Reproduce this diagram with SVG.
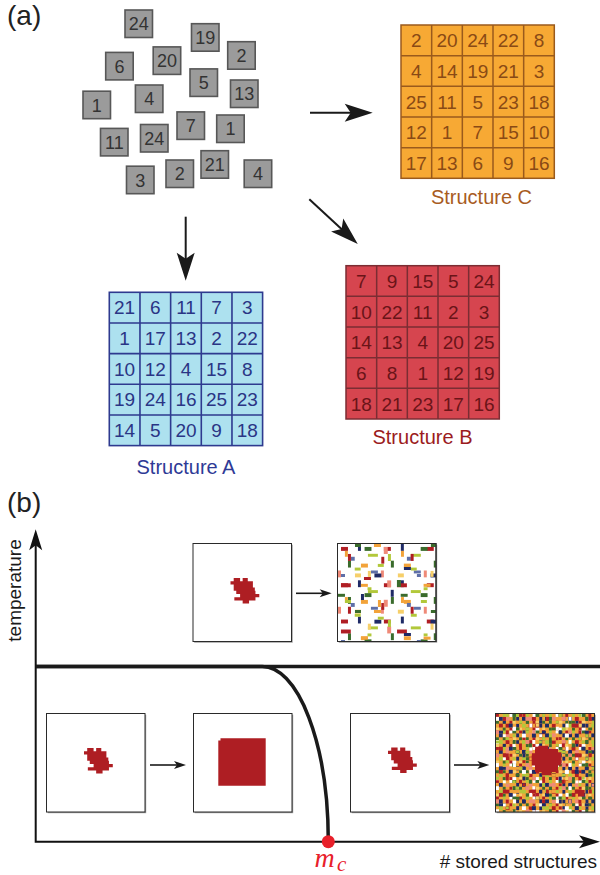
<svg xmlns="http://www.w3.org/2000/svg" width="600" height="875" viewBox="0 0 600 875">
<style>
text{font-family:"Liberation Sans",Arial,sans-serif}
.lbl{font-size:28px;fill:#222}
.tile rect{fill:#9b9b9b;stroke:#575757;stroke-width:1.6}
.tile text{font-size:18px;fill:#333;text-anchor:middle}
.g text{font-size:19px;text-anchor:middle}
.g .ttl{font-size:20px}
#structure-c .c{fill:#F7A934}
#structure-c .l{fill:none;stroke:#9A5A1C;stroke-width:1.5}
#structure-c text{fill:#8A4A15}
#structure-c .ttl{fill:#A85C1F}
#structure-a .c{fill:#ADE1EF}
#structure-a .l{fill:none;stroke:#2E3A8F;stroke-width:1.6}
#structure-a text{fill:#2A3585}
#structure-a .ttl{fill:#2E3A96}
#structure-b .c{fill:#D6454F}
#structure-b .l{fill:none;stroke:#7B2D33;stroke-width:1.5}
#structure-b text{fill:#6A1418}
#structure-b .ttl{fill:#9B1B20}
.arr{stroke:#1a1a1a;stroke-width:2;fill:none}
.sarr{stroke:#1a1a1a;stroke-width:1.6;fill:none}
.axis{stroke:#111;stroke-width:2;fill:none}
.phase{stroke:#1a1a1a;stroke-width:3.5;fill:none}
.box .sh{fill:#9a9a9a}
.box .fr{fill:#fff;stroke:#2a2a2a;stroke-width:1}
.box .fo{fill:none;stroke:#2a2a2a;stroke-width:1}
.r{fill:#B01E24}.n{fill:#1F2A66}.gg{fill:#3A6B2C}.y{fill:#B2C83A}.o{fill:#F2A33A}.s{fill:#EF8A78}.lt{fill:#F6CF6A}.w{fill:#FFFFFF}.b{fill:#5E6FA8}
.blob{fill:#AE1E23}
.ax{font-size:19px;fill:#1a1a1a}
text.math{font-family:"Liberation Serif","Times New Roman",serif;font-style:italic;fill:#E8202A}
</style>
<defs>
<marker id="ah" markerUnits="userSpaceOnUse" markerWidth="30" markerHeight="20" refX="18" refY="9" orient="auto" overflow="visible">
<path d="M28,9 L0,0 L6,9 L0,18 Z" fill="#1a1a1a"/>
</marker>
<marker id="sah" markerUnits="userSpaceOnUse" markerWidth="14" markerHeight="10" refX="7" refY="4" orient="auto" overflow="visible">
<path d="M12,4 L0,0 L3,4 L0,8 Z" fill="#1a1a1a"/>
</marker>
<marker id="axh" markerUnits="userSpaceOnUse" markerWidth="22" markerHeight="14" refX="13" refY="6.5" orient="auto-start-reverse" overflow="visible">
<path d="M21,6.5 L0,0 L5,6.5 L0,13 Z" fill="#111"/>
</marker>
<symbol id="blobshape" overflow="visible">
<path class="blob" transform="scale(3.2)" d="M1,0h2v1h-2z M3.8,0h1.6v1h-1.6z M0,1h7v1h-7z M1,2h6v1h-6z M1,3h6.6v1h-6.6z M1.8,4h6v1h-6z M3,5h6v1h-6z M1.2,6h6.6v1h-6.6z M3.8,7h2v1h-2z"/>
</symbol>
<pattern id="pd1" patternUnits="userSpaceOnUse" width="7" height="5" patternTransform="translate(496,714) scale(3.3)" shape-rendering="crispEdges">
<path class="r" d="M0,0h1v1h-1z M4,2h1v1h-1z M3,3h1v1h-1z M4,4h1v1h-1z"/>
<path class="y" d="M2,0h1v1h-1z M1,3h1v1h-1z"/>
<path class="w" d="M4,0h1v1h-1z M5,4h1v1h-1z"/>
<path class="gg" d="M5,0h1v1h-1z M0,2h1v1h-1z M2,4h1v1h-1z M2,2h1v1h-1z"/>
<path class="n" d="M1,1h1v1h-1z M6,3h1v1h-1z M6,1h1v1h-1z"/>
<path class="s" d="M3,1h1v1h-1z"/>
<path class="lt" d="M5,2h1v1h-1z M0,4h1v1h-1z"/>
</pattern>
<pattern id="pd2" patternUnits="userSpaceOnUse" width="11" height="7" patternTransform="translate(496,714) scale(3.3)" shape-rendering="crispEdges">
<path class="y" d="M3,0h1v1h-1z M7,2h1v1h-1z M9,4h1v1h-1z M5,6h1v1h-1z"/>
<path class="r" d="M8,0h1v1h-1z M1,3h1v1h-1z M3,5h1v1h-1z"/>
<path class="w" d="M0,1h1v1h-1z M10,3h1v1h-1z M2,6h1v1h-1z"/>
<path class="gg" d="M5,1h1v1h-1z M6,4h1v1h-1z"/>
<path class="s" d="M9,1h1v1h-1z M0,5h1v1h-1z"/>
<path class="n" d="M2,2h1v1h-1z M8,5h1v1h-1z M4,3h1v1h-1z"/>
<path class="o" d="M10,6h1v1h-1z M6,2h1v1h-1z"/>
</pattern>
<pattern id="pd3" patternUnits="userSpaceOnUse" width="13" height="11" patternTransform="translate(496,714) scale(3.3)" shape-rendering="crispEdges">
<path class="r" d="M2,1h1v1h-1z M7,9h1v1h-1z M11,1h1v1h-1z"/>
<path class="gg" d="M9,2h1v1h-1z M10,9h1v1h-1z"/>
<path class="w" d="M5,4h1v1h-1z M8,6h1v1h-1z"/>
<path class="n" d="M11,6h1v1h-1z M1,5h1v1h-1z"/>
<path class="y" d="M0,8h1v1h-1z M6,0h1v1h-1z"/>
<path class="s" d="M3,10h1v1h-1z"/>
<path class="lt" d="M12,3h1v1h-1z"/>
<path class="o" d="M4,7h1v1h-1z"/>
</pattern>
<pattern id="ps1" patternUnits="userSpaceOnUse" width="13" height="11" patternTransform="translate(338,544) scale(3.3)" shape-rendering="crispEdges">
<path class="r" d="M1,1h2v1h-2z"/>
<path class="n" d="M6,0h1v2h-1z"/>
<path class="y" d="M9,3h3v1h-3z"/>
<path class="gg" d="M3,5h1v2h-1z"/>
<path class="o" d="M7,6h2v1h-2z"/>
<path class="s" d="M0,8h1v2h-1z"/>
<path class="b" d="M10,8h2v1h-2z"/>
<path class="lt" d="M5,9h2v1h-2z"/>
</pattern>
<pattern id="ps2" patternUnits="userSpaceOnUse" width="17" height="14" patternTransform="translate(338,544) scale(3.3)" shape-rendering="crispEdges">
<path class="o" d="M2,2h1v2h-1z"/>
<path class="gg" d="M8,1h2v1h-2z"/>
<path class="r" d="M13,4h1v2h-1z M1,12h3v1h-3z"/>
<path class="y" d="M5,7h2v1h-2z M9,13h1v1h-1z"/>
<path class="n" d="M11,9h2v1h-2z"/>
<path class="s" d="M15,11h1v2h-1z"/>
<path class="b" d="M4,4h1v1h-1z"/>
</pattern>
<pattern id="ps3" patternUnits="userSpaceOnUse" width="19" height="16" patternTransform="translate(338,544) scale(3.3)" shape-rendering="crispEdges">
<path class="r" d="M3,3h1v2h-1z"/>
<path class="y" d="M12,6h2v1h-2z"/>
<path class="o" d="M7,12h2v1h-2z"/>
<path class="n" d="M16,14h1v2h-1z"/>
<path class="gg" d="M0,15h2v1h-2z"/>
<path class="s" d="M14,1h1v2h-1z"/>
<path class="lt" d="M9,8h1v2h-1z"/>
</pattern>
<pattern id="ps4" patternUnits="userSpaceOnUse" width="23" height="20" patternTransform="translate(338,544) scale(3.3)" shape-rendering="crispEdges">
<path class="gg" d="M5,0h2v1h-2z M18,11h1v2h-1z"/>
<path class="y" d="M15,3h1v2h-1z M2,17h2v1h-2z"/>
<path class="n" d="M20,7h2v1h-2z M7,15h1v2h-1z"/>
<path class="o" d="M11,0h2v1h-2z M12,17h1v2h-1z"/>
<path class="r" d="M8,10h2v1h-2z"/>
<path class="b" d="M1,9h1v1h-1z"/>
</pattern>
</defs>

<rect width="600" height="875" fill="#fff"/>

<text class="lbl" x="7" y="25">(a)</text>
<text class="lbl" x="7" y="512">(b)</text>

<!-- scattered tiles -->
<g id="tile-24a" class="tile"><rect x="125" y="10" width="27.5" height="27.5"/><text x="138.7" y="30.2">24</text></g>
<g id="tile-19" class="tile"><rect x="191.5" y="23.7" width="27.5" height="27.5"/><text x="205.3" y="44">19</text></g>
<g id="tile-2a" class="tile"><rect x="227.7" y="41.7" width="27.5" height="27.5"/><text x="241.5" y="62">2</text></g>
<g id="tile-6" class="tile"><rect x="105.7" y="52.4" width="27.5" height="27.5"/><text x="119.5" y="72.7">6</text></g>
<g id="tile-20" class="tile"><rect x="153.2" y="46.9" width="27.5" height="27.5"/><text x="167" y="67.2">20</text></g>
<g id="tile-5" class="tile"><rect x="190" y="68.9" width="27.5" height="27.5"/><text x="203.8" y="89.2">5</text></g>
<g id="tile-13" class="tile"><rect x="230.5" y="80" width="27.5" height="27.5"/><text x="244.3" y="100.3">13</text></g>
<g id="tile-1a" class="tile"><rect x="83" y="91.2" width="27.5" height="27.5"/><text x="96.8" y="111.5">1</text></g>
<g id="tile-4a" class="tile"><rect x="135.4" y="85" width="27.5" height="27.5"/><text x="149.2" y="105.3">4</text></g>
<g id="tile-7" class="tile"><rect x="177" y="111.9" width="27.5" height="27.5"/><text x="190.8" y="132.2">7</text></g>
<g id="tile-1b" class="tile"><rect x="216.7" y="115" width="27.5" height="27.5"/><text x="230.5" y="135.3">1</text></g>
<g id="tile-11" class="tile"><rect x="100.5" y="128.4" width="27.5" height="27.5"/><text x="114.3" y="148.7">11</text></g>
<g id="tile-24b" class="tile"><rect x="140.5" y="124.5" width="27.5" height="27.5"/><text x="154.3" y="144.8">24</text></g>
<g id="tile-21" class="tile"><rect x="201" y="150.7" width="27.5" height="27.5"/><text x="214.8" y="171">21</text></g>
<g id="tile-2b" class="tile"><rect x="166" y="160" width="27.5" height="27.5"/><text x="179.8" y="180.3">2</text></g>
<g id="tile-3" class="tile"><rect x="126.5" y="166.2" width="27.5" height="27.5"/><text x="140.3" y="186.5">3</text></g>
<g id="tile-4b" class="tile"><rect x="244.2" y="160" width="27.5" height="27.5"/><text x="258" y="180.3">4</text></g>

<!-- Structure C -->
<g id="structure-c" class="g" transform="translate(401,25)">
<rect class="c" width="153.3" height="153.3"/>
<path class="l" d="M30.67,0V153.3M61.33,0V153.3M92,0V153.3M122.67,0V153.3M0,30.67H153.3M0,61.33H153.3M0,92H153.3M0,122.67H153.3"/>
<rect class="l" width="153.3" height="153.3"/>
<text x="15.3" y="22.2">2</text><text x="46" y="22.2">20</text><text x="76.7" y="22.2">24</text><text x="107.3" y="22.2">22</text><text x="138" y="22.2">8</text>
<text x="15.3" y="52.9">4</text><text x="46" y="52.9">14</text><text x="76.7" y="52.9">19</text><text x="107.3" y="52.9">21</text><text x="138" y="52.9">3</text>
<text x="15.3" y="83.5">25</text><text x="46" y="83.5">11</text><text x="76.7" y="83.5">5</text><text x="107.3" y="83.5">23</text><text x="138" y="83.5">18</text>
<text x="15.3" y="114.2">12</text><text x="46" y="114.2">1</text><text x="76.7" y="114.2">7</text><text x="107.3" y="114.2">15</text><text x="138" y="114.2">10</text>
<text x="15.3" y="144.9">17</text><text x="46" y="144.9">13</text><text x="76.7" y="144.9">6</text><text x="107.3" y="144.9">9</text><text x="138" y="144.9">16</text>
<text class="ttl" x="80.5" y="179">Structure C</text>
</g>

<!-- Structure A -->
<g id="structure-a" class="g" transform="translate(109.3,292.3)">
<rect class="c" width="153.3" height="153.3"/>
<path class="l" d="M30.67,0V153.3M61.33,0V153.3M92,0V153.3M122.67,0V153.3M0,30.67H153.3M0,61.33H153.3M0,92H153.3M0,122.67H153.3"/>
<rect class="l" width="153.3" height="153.3"/>
<text x="15.3" y="22.2">21</text><text x="46" y="22.2">6</text><text x="76.7" y="22.2">11</text><text x="107.3" y="22.2">7</text><text x="138" y="22.2">3</text>
<text x="15.3" y="52.9">1</text><text x="46" y="52.9">17</text><text x="76.7" y="52.9">13</text><text x="107.3" y="52.9">2</text><text x="138" y="52.9">22</text>
<text x="15.3" y="83.5">10</text><text x="46" y="83.5">12</text><text x="76.7" y="83.5">4</text><text x="107.3" y="83.5">15</text><text x="138" y="83.5">8</text>
<text x="15.3" y="114.2">19</text><text x="46" y="114.2">24</text><text x="76.7" y="114.2">16</text><text x="107.3" y="114.2">25</text><text x="138" y="114.2">23</text>
<text x="15.3" y="144.9">14</text><text x="46" y="144.9">5</text><text x="76.7" y="144.9">20</text><text x="107.3" y="144.9">9</text><text x="138" y="144.9">18</text>
<text class="ttl" x="76.7" y="181.7">Structure A</text>
</g>

<!-- Structure B -->
<g id="structure-b" class="g" transform="translate(346,265.7)">
<rect class="c" width="153.3" height="153.3"/>
<path class="l" d="M30.67,0V153.3M61.33,0V153.3M92,0V153.3M122.67,0V153.3M0,30.67H153.3M0,61.33H153.3M0,92H153.3M0,122.67H153.3"/>
<rect class="l" width="153.3" height="153.3"/>
<text x="15.3" y="22.2">7</text><text x="46" y="22.2">9</text><text x="76.7" y="22.2">15</text><text x="107.3" y="22.2">5</text><text x="138" y="22.2">24</text>
<text x="15.3" y="52.9">10</text><text x="46" y="52.9">22</text><text x="76.7" y="52.9">11</text><text x="107.3" y="52.9">2</text><text x="138" y="52.9">3</text>
<text x="15.3" y="83.5">14</text><text x="46" y="83.5">13</text><text x="76.7" y="83.5">4</text><text x="107.3" y="83.5">20</text><text x="138" y="83.5">25</text>
<text x="15.3" y="114.2">6</text><text x="46" y="114.2">8</text><text x="76.7" y="114.2">1</text><text x="107.3" y="114.2">12</text><text x="138" y="114.2">19</text>
<text x="15.3" y="144.9">18</text><text x="46" y="144.9">21</text><text x="76.7" y="144.9">23</text><text x="107.3" y="144.9">17</text><text x="138" y="144.9">16</text>
<text class="ttl" x="76.5" y="178.6">Structure B</text>
</g>

<!-- phase diagram axes and boundary -->
<g id="phase-diagram">
<path class="axis" d="M35.7,537.3 V841.7 H592" marker-start="url(#axh)" marker-end="url(#axh)"/>
<path class="phase" d="M35.7,666.5 H600"/>
<path class="phase" d="M35.7,666.5 H262 A66,175 0 0 1 328.3,841.7"/>
<circle cx="328.3" cy="841.7" r="6.5" fill="#E8202A"/>
<text class="ax" transform="translate(21,590.5) rotate(-90)" text-anchor="middle">temperature</text>
<text class="ax" x="597" y="867.7" text-anchor="end"># stored structures</text>
<text class="math" x="314.5" y="866.7" font-size="28">m</text>
<text class="math" x="337" y="871" font-size="21">c</text>
</g>

<!-- (b) boxes -->
<g id="box-high-seed" class="box">
<rect class="sh" x="194.2" y="544.7" width="98.5" height="98"/>
<rect class="fr" x="193" y="543.5" width="98.5" height="98"/>
<use href="#blobshape" x="230.5" y="578"/>
</g>
<g id="box-high-sparse" class="box">
<rect class="sh" x="338.7" y="544.7" width="98.5" height="98"/>
<rect class="fr" x="337.5" y="543.5" width="98.5" height="98"/>
<rect x="337.5" y="543.5" width="98.5" height="98" fill="url(#ps1)"/>
<rect x="337.5" y="543.5" width="98.5" height="98" fill="url(#ps2)"/>
<rect x="337.5" y="543.5" width="98.5" height="98" fill="url(#ps3)"/>
<rect x="337.5" y="543.5" width="98.5" height="98" fill="url(#ps4)"/>
<rect class="fo" x="337.5" y="543.5" width="98.5" height="98"/>
</g>
<g id="box-low-seed" class="box">
<rect class="sh" x="47.7" y="714.7" width="98.5" height="98.5"/>
<rect class="fr" x="46.5" y="713.5" width="98.5" height="98.5"/>
<use href="#blobshape" x="84" y="748"/>
</g>
<g id="box-low-grown" class="box">
<rect class="sh" x="194.7" y="714.7" width="98.5" height="98.5"/>
<rect class="fr" x="193.5" y="713.5" width="98.5" height="98.5"/>
<path class="blob" d="M220.5,738.3 H265.7 V785.7 H218.3 V740.5 H220.5 Z"/>
</g>
<g id="box-mid-seed" class="box">
<rect class="sh" x="351.7" y="714.7" width="99" height="98.5"/>
<rect class="fr" x="350.5" y="713.5" width="99" height="98.5"/>
<use href="#blobshape" x="388" y="747.5"/>
</g>
<g id="box-mid-dense" class="box">
<rect class="sh" x="496.7" y="714.7" width="99" height="98.5"/>
<rect x="495.5" y="713.5" width="99" height="98.5" fill="#F2A33A"/>
<rect x="495.5" y="713.5" width="99" height="98.5" fill="url(#pd1)"/>
<rect x="495.5" y="713.5" width="99" height="98.5" fill="url(#pd2)"/>
<rect x="495.5" y="713.5" width="99" height="98.5" fill="url(#pd3)"/>
<path class="blob" d="M535,749 h23 v23 h-23 z M531.7,755.6 h3.3 v9.9 h-3.3 z M558,752.3 h3.3 v13.2 h-3.3 z M541.6,772 h9.9 v3.3 h-9.9 z M538.3,745.7 h9.9 v3.3 h-9.9 z M578,790 h6.6 v6.6 h-6.6 z"/>
<rect class="fo" x="495.5" y="713.5" width="99" height="98.5"/>
</g>

<!-- connectors -->
<g id="connectors">
<path class="arr" d="M310,112.7 H362.7" marker-end="url(#ah)"/>
<path class="arr" d="M309.3,199.3 L350.4,237.2" marker-end="url(#ah)"/>
<path class="arr" d="M185.7,216.7 V270.7" marker-end="url(#ah)"/>
<path class="sarr" d="M296,593.3 H326.7" marker-end="url(#sah)"/>
<path class="sarr" d="M150,765 H181" marker-end="url(#sah)"/>
<path class="sarr" d="M454,765 H484.3" marker-end="url(#sah)"/>
</g>
</svg>
